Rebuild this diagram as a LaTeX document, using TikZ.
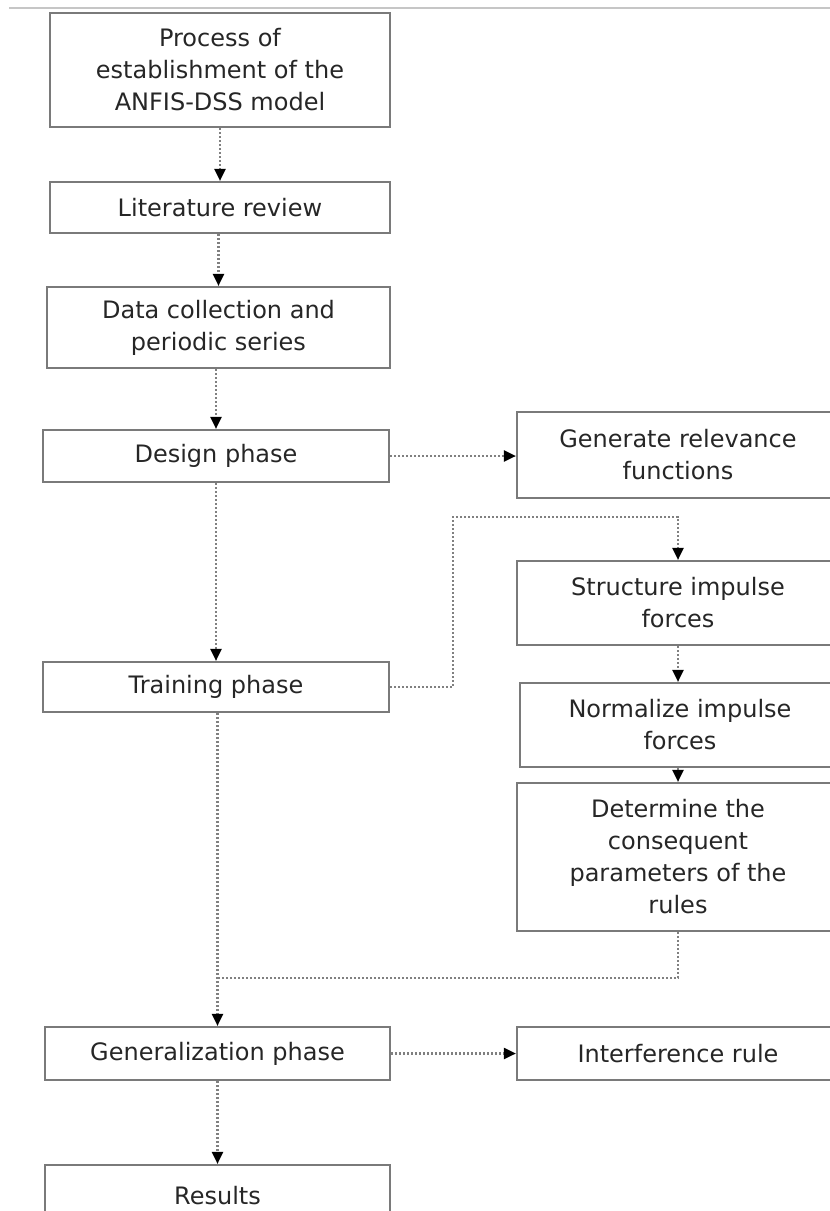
\documentclass[tikz,border=0pt]{standalone}
\usepackage{fontspec}
\setmainfont{DejaVu Sans}
\usetikzlibrary{arrows.meta}
\definecolor{txt}{HTML}{262626}
\definecolor{bord}{HTML}{7A7A7A}
\definecolor{conn}{HTML}{808080}
\begin{document}
\begin{tikzpicture}[x=1pt,y=-1pt,
  box/.style={draw=bord, line width=2.2pt, rectangle, inner sep=0pt, align=center,
    text=txt, font=\fontsize{24}{32}\selectfont},
  conn/.style={draw=conn, line width=2.1pt, dash pattern=on 2pt off 2pt},
  arr/.style={conn, -{Triangle[length=12pt,width=11pt,fill=black,color=black]}}]
\useasboundingbox (0,0) rectangle (830,1211);
\draw[gray!45, line width=1.5pt] (9,8) -- (830,8);

\node[box, minimum width=340, minimum height=114] (p) at (220,70) {Process of\\establishment of the\\ANFIS-DSS model};
\node[box, minimum width=340, minimum height=51] (lit) at (220,207.5) {Literature review};
\node[box, minimum width=343, minimum height=81] (data) at (218.5,327.5) {Data collection and\\periodic series};
\node[box, minimum width=346, minimum height=52] (design) at (216,456) {Design phase};
\node[box, minimum width=346, minimum height=50] (train) at (216,687) {Training phase};
\node[box, minimum width=345, minimum height=53] (gen) at (217.5,1053.5) {Generalization phase};
\node[box, minimum width=345, minimum height=60, text depth=0pt] (res) at (217.5,1195) {Results};

\node[box, minimum width=322, minimum height=86] (rel) at (678,455) {Generate relevance\\functions};
\node[box, minimum width=322, minimum height=84] (struct) at (678,603) {Structure impulse\\forces};
\node[box, minimum width=320, minimum height=84] (norm) at (680,725) {Normalize impulse\\forces};
\node[box, minimum width=322, minimum height=148] (det) at (678,857) {Determine the\\consequent\\parameters of the\\rules};
\node[box, minimum width=322, minimum height=53] (inter) at (678,1053.5) {Interference rule};

\coordinate (c1) at (453,517);
\coordinate (c2) at (217.5,978);

\draw[arr] (p.south) -- (p.south |- lit.north);
\draw[arr] (lit.south -| data.north) -- (data.north);
\draw[arr] (data.south -| design.north) -- (design.north);
\draw[arr] (design.south) -- (train.north);
\draw[arr] (design.east) -- (design.east -| rel.west);
\draw[arr] (train.east) -| (c1) -| (struct.north);
\draw[arr] (struct.south) -- (struct.south |- norm.north);
\draw[arr] (norm.south -| det.north) -- (det.north);
\draw[conn] (det.south) |- (c2);
\draw[arr] (train.south -| gen.north) -- (gen.north);
\draw[arr] (gen.east) -- (inter.west);
\draw[arr] (gen.south) -- (res.north);
\end{tikzpicture}
\end{document}
